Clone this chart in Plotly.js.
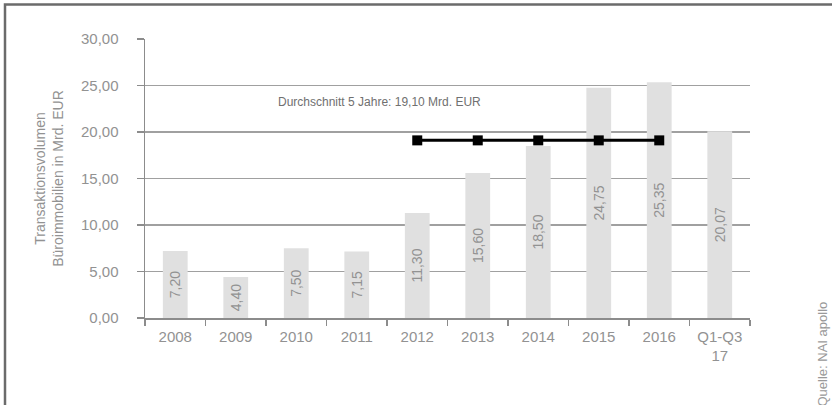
<!DOCTYPE html>
<html>
<head>
<meta charset="utf-8">
<script src="https://cdn.plot.ly/plotly-3.0.1.min.js"></script>
<style>html,body{margin:0;padding:0;background:#fff;}#chart{width:832px;height:405px;}</style>
</head>
<body>
<div id="chart"></div>
<script>
var categories = ["2008","2009","2010","2011","2012","2013","2014","2015","2016","Q1-Q3<br>17"];
var volumes = [7.20, 4.40, 7.50, 7.15, 11.30, 15.60, 18.50, 24.75, 25.35, 20.07];
var avgCategories = ["2012","2013","2014","2015","2016"];
var avgValues = [19.10, 19.10, 19.10, 19.10, 19.10];
var yTickVals = [0, 5, 10, 15, 20, 25, 30];
var avgLabel = "Durchschnitt 5 Jahre: 19,10 Mrd. EUR";
var yTitle = "Transaktionsvolumen<br>Büroimmobilien in Mrd. EUR";
var sourceText = "Quelle: NAI apollo";

var FONT = "Liberation Sans, Arial, sans-serif";
var GRAY = "#929292";

var L = 145, R = 750, T = 39, B = 318, W = 832, H = 405;
function px(x){ return (x - L) / (R - L); }
function py(y){ return (B - y) / (B - T); }

var traces = [
  {
    type: "bar",
    x: categories,
    y: volumes,
    marker: {color: "#e0e0e0"},
    texttemplate: "%{y:.2f}",
    textposition: "inside",
    insidetextanchor: "middle",
    textangle: -90,
    textfont: {family: FONT, size: 14, color: GRAY},
    hoverinfo: "none",
    cliponaxis: false
  },
  {
    type: "scatter",
    mode: "lines+markers",
    x: avgCategories,
    y: avgValues,
    line: {color: "#000000", width: 3},
    marker: {symbol: "square", size: 10, color: "#000000"},
    hoverinfo: "none"
  }
];

var layout = {
  width: W, height: H,
  margin: {l: L, r: W - R, t: T, b: H - B, pad: 0},
  paper_bgcolor: "#ffffff",
  plot_bgcolor: "#ffffff",
  separators: ",.",
  showlegend: false,
  bargap: 0.59,
  font: {family: FONT, color: GRAY, size: 15},
  xaxis: {
    type: "category",
    showgrid: false,
    showline: true,
    linecolor: "#8c8c8c",
    linewidth: 1.5,
    ticks: "outside",
    tickson: "boundaries",
    ticklen: 6,
    tickcolor: "#8c8c8c",
    tickwidth: 1.5,
    ticklabelstandoff: 4,
    tickfont: {family: FONT, size: 15, color: GRAY},
    fixedrange: true
  },
  yaxis: {
    range: [0, 30],
    tickvals: yTickVals,
    tickformat: ".2f",
    showgrid: true,
    gridcolor: "#a0a0a0",
    gridwidth: 1.5,
    zeroline: false,
    showline: true,
    linecolor: "#8c8c8c",
    linewidth: 1.5,
    ticks: "outside",
    ticklen: 7,
    tickcolor: "#8c8c8c",
    tickwidth: 1.5,
    ticklabelstandoff: 15,
    tickfont: {family: FONT, size: 15, color: GRAY},
    title: {text: yTitle, font: {family: FONT, size: 14, color: GRAY}, standoff: 14},
    fixedrange: true
  },
  annotations: [
    {
      xref: "paper", yref: "paper",
      x: px(276), y: py(102),
      xanchor: "left", yanchor: "middle",
      text: avgLabel,
      showarrow: false,
      font: {family: FONT, size: 12, color: "#707070"}
    },
    {
      xref: "paper", yref: "paper",
      x: px(822), y: py(300),
      xanchor: "center", yanchor: "top",
      text: sourceText,
      textangle: -90,
      showarrow: false,
      font: {family: FONT, size: 13, color: "#999999"}
    }
  ],
  shapes: [
    {
      type: "path",
      xref: "paper", yref: "paper",
      path: "M " + px(5) + " " + py(410) + " L " + px(5) + " " + py(4.5) + " L " + px(840) + " " + py(4.5),
      line: {color: "#6b6b6b", width: 2.5}
    }
  ]
};

Plotly.newPlot("chart", traces, layout, {staticPlot: true, displayModeBar: false});
</script>
</body>
</html>
